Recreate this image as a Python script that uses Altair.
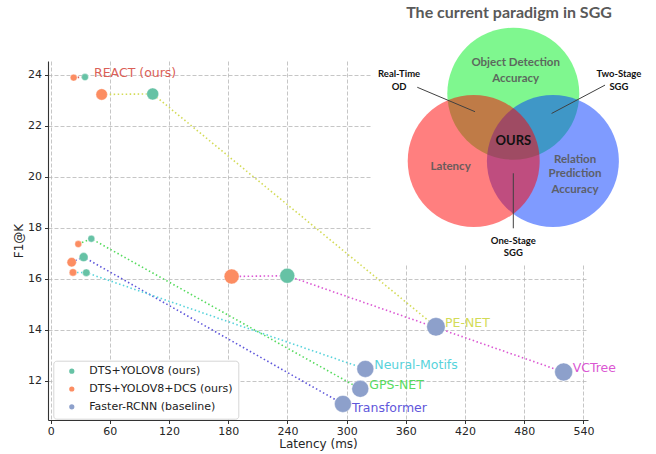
import altair as alt
import pandas as pd

# ---- scatter data: latency (ms) vs F1@K for each SGG model ----
MODELS = ["REACT", "PE-NET", "VCTree", "GPS-NET", "Transformer", "Neural-Motifs"]
MODEL_LABELS = ["REACT (ours)", "PE-NET", "VCTree", "GPS-NET", "Transformer", "Neural-Motifs"]
MODEL_COLORS = ["#db5f57", "#d3db57", "#db57d3", "#57db5f", "#5f57db", "#57d3db"]

KINDS = ["DTS+YOLOV8 (ours)", "DTS+YOLOV8+DCS (ours)", "Faster-RCNN (baseline)"]
KIND_COLORS = ["#66c2a5", "#fc8d62", "#8da0cb"]

DCS_LATENCY = [23.3, 51.7, 183.4, 28.0, 21.3, 22.6]
DCS_F1 = [23.88, 23.22, 16.09, 17.36, 16.65, 16.25]
DCS_WEIGHT = [0.12, 0.33, 0.56, 0.12, 0.22, 0.14]

DTS_LATENCY = [34.8, 103.4, 239.8, 41.2, 33.4, 36.1]
DTS_F1 = [23.90, 23.24, 16.12, 17.57, 16.85, 16.24]
DTS_WEIGHT = [0.12, 0.36, 0.56, 0.12, 0.20, 0.14]

BASE_LATENCY = [None, 390.5, 519.9, 313.8, 296.2, 318.9]
BASE_F1 = [None, 14.12, 12.35, 11.69, 11.10, 12.47]
BASE_WEIGHT = [None, 0.86, 0.81, 0.72, 0.72, 0.72]

X_TICKS = [0, 60, 120, 180, 240, 300, 360, 420, 480, 540]
Y_TICKS = [12, 14, 16, 18, 20, 22, 24]

# ---- Venn diagram inset (unit circle coordinates) ----
VENN_TITLE = "The current paradigm in SGG"
VENN_SETS = ["Object Detection Accuracy", "Relation Prediction Accuracy", "Latency"]
VENN_U = [0.0, 0.6, -0.6]
VENN_V = [1.02, 0.0, 0.0]
VENN_COLORS = ["#00f020", "#0038ff", "#ff0000"]

REGION_TEXT = ["Object Detection", "Accuracy", "Latency", "Relation", "Prediction", "Accuracy"]
REGION_U = [0.036, 0.036, -0.95, 0.935, 0.935, 0.935]
REGION_V = [1.48, 1.24, -0.086, 0.02, -0.20, -0.435]

CALLOUT_TEXT = ["Real-Time", "OD", "Two-Stage", "SGG", "One-Stage", "SGG"]
CALLOUT_U = [-1.73, -1.73, 1.60, 1.60, 0.0, 0.0]
CALLOUT_V = [1.32, 1.117, 1.32, 1.117, -1.21, -1.40]

LEADER_U = [-1.455, 1.39, 0.0]
LEADER_V = [1.117, 1.15, -0.186]
LEADER_U2 = [-0.58, 0.58, 0.0]
LEADER_V2 = [0.747, 0.72, -1.02]

CENTER_TEXT = "OURS"

# ---- build tables ----
rows = []
for i, m in enumerate(MODELS):
    rows.append(dict(model=m, kind=KINDS[1], step=0, latency=DCS_LATENCY[i], f1=DCS_F1[i], weight=DCS_WEIGHT[i]))
    rows.append(dict(model=m, kind=KINDS[0], step=1, latency=DTS_LATENCY[i], f1=DTS_F1[i], weight=DTS_WEIGHT[i]))
    if BASE_LATENCY[i] is not None:
        rows.append(dict(model=m, kind=KINDS[2], step=2, latency=BASE_LATENCY[i], f1=BASE_F1[i], weight=BASE_WEIGHT[i]))
pts = pd.DataFrame(rows)

label_rows = []
for i, m in enumerate(MODELS):
    if BASE_LATENCY[i] is not None:
        label_rows.append(dict(model=m, label=MODEL_LABELS[i], latency=BASE_LATENCY[i], f1=BASE_F1[i]))
    else:
        label_rows.append(dict(model=m, label=MODEL_LABELS[i], latency=DTS_LATENCY[i], f1=DTS_F1[i]))
labels = pd.DataFrame(label_rows)

FONT = "DejaVu Sans"
VFONT = "Lato"

xs = alt.Scale(domain=[-2.7, 544.6], nice=False, zero=False)
ys = alt.Scale(domain=[10.47, 24.53], nice=False, zero=False)
model_scale = alt.Scale(domain=MODELS, range=MODEL_COLORS)

X = alt.X("latency:Q", scale=xs, axis=alt.Axis(values=X_TICKS, title="Latency (ms)"))
Y = alt.Y("f1:Q", scale=ys, axis=alt.Axis(values=Y_TICKS, title="F1@K"))

lines = alt.Chart(pts).mark_line(strokeDash=[1.5, 2.5], strokeWidth=1.6).encode(
    x=X, y=Y,
    detail="model:N",
    order="step:Q",
    stroke=alt.Stroke("model:N", scale=model_scale, legend=None),
)

points = alt.Chart(pts).mark_circle(opacity=1, stroke="white", strokeWidth=0.4).encode(
    x=X, y=Y,
    color=alt.Color(
        "kind:N",
        scale=alt.Scale(domain=KINDS, range=KIND_COLORS),
        legend=alt.Legend(
            title=None, orient="none", legendX=5.3, legendY=299.7,
            direction="vertical",
            padding=5, strokeColor="#d6d6d6", fillColor="white", cornerRadius=3,
            symbolType="circle", symbolSize=45, symbolOffset=8,
            labelFont=FONT, labelFontSize=11, labelColor="#222222",
            labelOffset=12, rowPadding=4.8,
        ),
    ),
    size=alt.Size("weight:Q", scale=alt.Scale(domain=[0, 1], range=[0, 400]), legend=None),
)

text_common = dict(align="left", baseline="middle", font=FONT, fontSize=12.5, dx=9)
labels_above = alt.Chart(labels).transform_filter(
    alt.datum.model != "Transformer"
).mark_text(dy=-4, **text_common).encode(
    x=X, y=Y, text="label:N",
    fill=alt.Fill("model:N", scale=model_scale, legend=None),
)
labels_below = alt.Chart(labels).transform_filter(
    alt.datum.model == "Transformer"
).mark_text(dy=4, **text_common).encode(
    x=X, y=Y, text="label:N",
    fill=alt.Fill("model:N", scale=model_scale, legend=None),
)

main = alt.layer(lines, points, labels_above, labels_below)

# ---- Venn inset ----
vx = alt.Scale(domain=[-1, 1], range=[399.3, 531.3], zero=False, nice=False)
vy = alt.Scale(domain=[-1, 1], range=[166, 34], zero=False, nice=False)
VX = alt.X("u:Q", scale=vx, axis=None)
VY = alt.Y("v:Q", scale=vy, axis=None)

panel = alt.Chart(pd.DataFrame([dict(u=-2.14, u2=2.4, v=-1.56, v2=2.6)])).mark_rect(
    fill="white", clip=False
).encode(x=VX, x2="u2:Q", y=VY, y2="v2:Q")

circles_df = pd.DataFrame(dict(name=VENN_SETS, u=VENN_U, v=VENN_V, draw=[0, 1, 2]))
circles = alt.Chart(circles_df).mark_circle(opacity=0.5, size=17424, clip=False).encode(
    x=VX, y=VY,
    color=alt.Color("name:N", scale=alt.Scale(domain=VENN_SETS, range=VENN_COLORS), legend=None),
    order="draw:Q",
)

leaders = alt.Chart(pd.DataFrame(dict(u=LEADER_U, v=LEADER_V, u2=LEADER_U2, v2=LEADER_V2))).mark_rule(
    color="#404040", strokeWidth=1, clip=False
).encode(x=VX, y=VY, x2="u2:Q", y2="v2:Q")

title_txt = alt.Chart(pd.DataFrame(dict(t=[VENN_TITLE], u=[-0.065], v=[2.25]))).mark_text(
    font=VFONT, fontWeight="bold", fontSize=16, color="#595959", clip=False
).encode(x=VX, y=VY, text="t:N")

region_txt = alt.Chart(pd.DataFrame(dict(t=REGION_TEXT, u=REGION_U, v=REGION_V))).mark_text(
    font=VFONT, fontWeight="bold", fontSize=11.5, color="#595959", opacity=0.9, clip=False
).encode(x=VX, y=VY, text="t:N")

callout_txt = alt.Chart(pd.DataFrame(dict(t=CALLOUT_TEXT, u=CALLOUT_U, v=CALLOUT_V))).mark_text(
    font=VFONT, fontWeight="bold", fontSize=9.5, color="#111111", clip=False
).encode(x=VX, y=VY, text="t:N")

center_txt = alt.Chart(pd.DataFrame(dict(t=[CENTER_TEXT], u=[0.0], v=[0.31]))).mark_text(
    font=VFONT, fontWeight="bold", fontSize=13, color="#111111", clip=False
).encode(x=VX, y=VY, text="t:N")

venn = alt.layer(panel, circles, leaders, title_txt, region_txt, callout_txt, center_txt)

chart = alt.layer(main, venn).resolve_scale(
    x="independent", y="independent", color="independent"
).properties(
    width=540, height=359,
    autosize=alt.AutoSizeParams(type="none"),
    padding={"left": 48, "top": 61, "right": 68, "bottom": 34},
    background="white",
).configure_view(
    stroke=None
).configure_axis(
    labelFont=FONT, labelFontSize=11, labelColor="#262626",
    titleFont=FONT, titleFontSize=12, titleFontWeight="normal", titleColor="#262626",
    grid=True, gridColor="#b8b8b8", gridDash=[4, 2], gridWidth=0.8,
    domainColor="#333333", domainWidth=1.1,
    tickColor="#333333", tickSize=3.5, tickWidth=1,
).configure_axisX(
    labelPadding=1.5, titlePadding=2.5, labelAngle=0,
).configure_axisY(
    labelPadding=3, titlePadding=2,
)

chart.save("out.html", embed_options={"renderer": "svg", "actions": False})
